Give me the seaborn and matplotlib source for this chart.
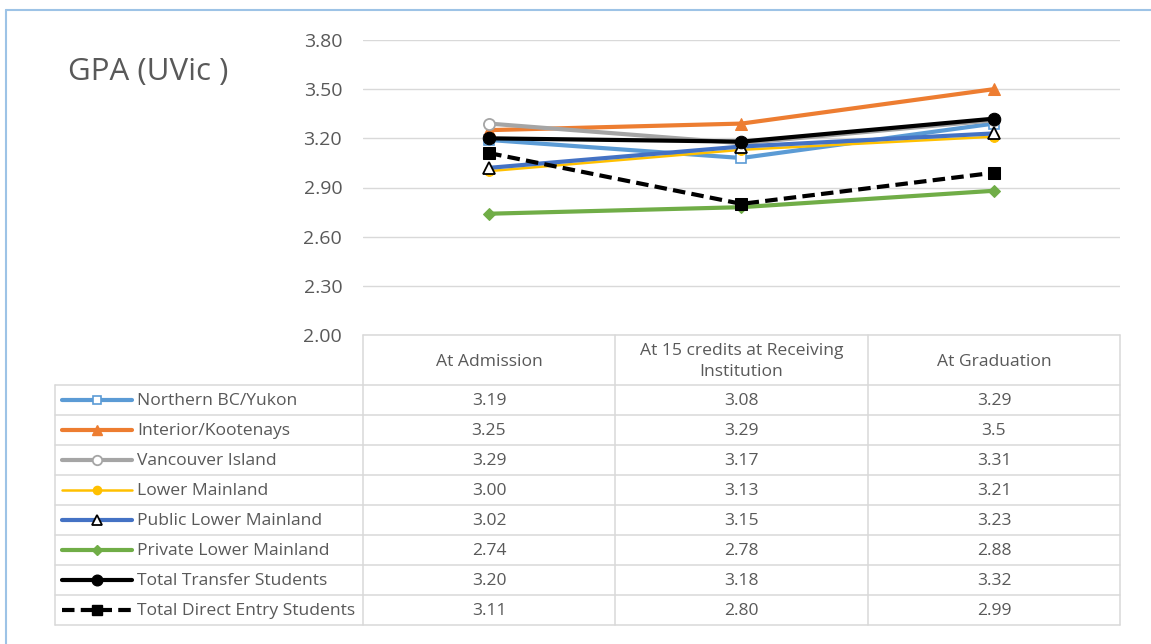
import matplotlib
matplotlib.use("Agg")
import matplotlib.pyplot as plt
from matplotlib.lines import Line2D
import pandas as pd
import seaborn as sns

stages = ["At Admission", "At 15 credits at Receiving\nInstitution", "At Graduation"]
series_names = ["Northern BC/Yukon", "Interior/Kootenays", "Vancouver Island", "Lower Mainland",
                "Public Lower Mainland", "Private Lower Mainland", "Total Transfer Students",
                "Total Direct Entry Students"]

# values as shown in the data table
northern = ["3.19", "3.08", "3.29"]
interior = ["3.25", "3.29", "3.5"]
vancouver = ["3.29", "3.17", "3.31"]
lower_mainland = ["3.00", "3.13", "3.21"]
public_lm = ["3.02", "3.15", "3.23"]
private_lm = ["2.74", "2.78", "2.88"]
total_transfer = ["3.20", "3.18", "3.32"]
direct_entry = ["3.11", "2.80", "2.99"]
all_values = [northern, interior, vancouver, lower_mainland, public_lm, private_lm,
              total_transfer, direct_entry]

yticks = [2.00, 2.30, 2.60, 2.90, 3.20, 3.50, 3.80]

styles = {
    "Northern BC/Yukon": dict(color="#5B9BD5", marker="s", ms=7, mfc="white", mec="#5B9BD5", mew=1.2, lw=3),
    "Interior/Kootenays": dict(color="#ED7D31", marker="^", ms=8, mfc="#ED7D31", mec="#ED7D31", lw=3),
    "Vancouver Island": dict(color="#A5A5A5", marker="o", ms=8, mfc="white", mec="#A5A5A5", mew=1.3, lw=3),
    "Lower Mainland": dict(color="#FFC000", marker="o", ms=7, mfc="#FFC000", mec="#FFC000", lw=1.8),
    "Public Lower Mainland": dict(color="#4472C4", marker="^", ms=8, mfc="white", mec="black", mew=1.3, lw=3),
    "Private Lower Mainland": dict(color="#70AD47", marker="D", ms=6, mfc="#70AD47", mec="#70AD47", lw=3),
    "Total Transfer Students": dict(color="black", marker="o", ms=9, mfc="black", mec="black", lw=3),
    "Total Direct Entry Students": dict(color="black", marker="s", ms=8, mfc="black", mec="black", lw=3,
                                        linestyle=(0, (3, 1.5))),
}

sns.set_style("white")
plt.rcParams["font.family"] = ["Open Sans", "DejaVu Sans"]
txt_color = "#595959"
grid_color = "#D9D9D9"
fs_table = 12.6

W, H = 1151, 644
fig = plt.figure(figsize=(W / 100, H / 100), dpi=100)
ax = fig.add_axes([363 / W, 1 - 335 / H, 757 / W, 295 / H])

for name, vals in zip(series_names, all_values):
    df = pd.DataFrame({"stage": stages, "gpa": [float(v) for v in vals]})
    sns.lineplot(data=df, x="stage", y="gpa", ax=ax, sort=False, legend=False, **styles[name])

ax.set_xlim(-0.5, 2.5)
ax.set_ylim(2.0, 3.8)
ax.set_yticks(yticks)
ax.set_yticklabels([f"{t:.2f}" for t in yticks], color=txt_color, fontsize=14)
ax.tick_params(axis="y", length=0, pad=15)
ax.set_xticks([])
ax.set_xlabel("")
ax.set_ylabel("")
ax.yaxis.grid(True, color=grid_color, lw=1)
ax.set_axisbelow(True)
for s in ax.spines.values():
    s.set_visible(False)

# overlay in pixel coordinates for the data table and frame
ov = fig.add_axes([0, 0, 1, 1])
ov.set_xlim(0, W)
ov.set_ylim(H, 0)
ov.axis("off")

# chart frame (only top and left visible in the crop)
ov.plot([6, W], [10, 10], color="#9DC3E6", lw=1.5)
ov.plot([6, 6], [10, H], color="#9DC3E6", lw=1.5)

ov.text(68, 72, "GPA (UVic )", fontsize=22.5, color=txt_color, ha="left", va="center")

# data table
col_edges = [363, 615, 868, 1120]
row_top, header_h, row_h = 335, 50, 30
table_bottom = row_top + header_h + row_h * len(series_names)
tlw = 1.1
ov.plot([col_edges[0], col_edges[-1]], [row_top, row_top], color=grid_color, lw=tlw)
for i in range(len(series_names) + 1):
    y = row_top + header_h + i * row_h
    ov.plot([55, col_edges[-1]], [y, y], color=grid_color, lw=tlw)
ov.plot([55, 55], [row_top + header_h, table_bottom], color=grid_color, lw=tlw)
for x in col_edges:
    ov.plot([x, x], [row_top, table_bottom], color=grid_color, lw=tlw)

for j, st in enumerate(stages):
    cx = (col_edges[j] + col_edges[j + 1]) / 2
    ov.text(cx, row_top + header_h / 2 + 1.5, st, ha="center", va="center", fontsize=fs_table,
            color=txt_color, linespacing=1.35)

for i, (name, vals) in enumerate(zip(series_names, all_values)):
    cy = row_top + header_h + row_h * i + row_h / 2
    st = styles[name]
    ov.add_line(Line2D([62, 132], [cy, cy], color=st["color"], lw=st["lw"],
                       linestyle=st.get("linestyle", "-")))
    ov.add_line(Line2D([97], [cy], marker=st["marker"], ms=st["ms"] * 0.85, mfc=st["mfc"],
                       mec=st["mec"], mew=st.get("mew", 1), linestyle="none"))
    ov.text(137, cy + 1, name, ha="left", va="center", fontsize=fs_table, color=txt_color)
    for j, v in enumerate(vals):
        cx = (col_edges[j] + col_edges[j + 1]) / 2
        ov.text(cx, cy + 1, v, ha="center", va="center", fontsize=fs_table, color=txt_color)

fig.savefig("out.png", dpi=100, facecolor="white")
